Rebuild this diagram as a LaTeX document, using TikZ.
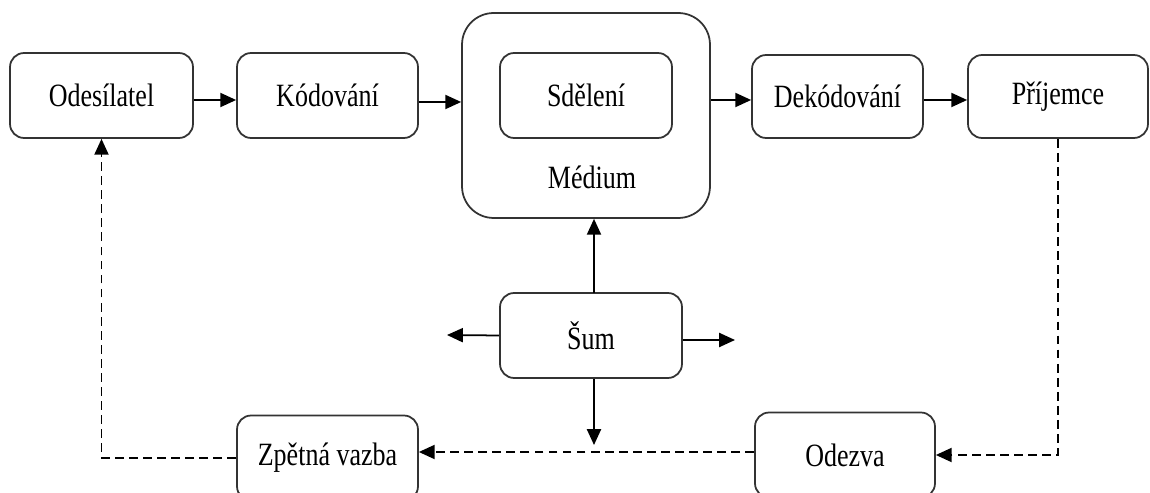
\documentclass[tikz,border=0pt]{standalone}
\usepackage{fontspec}
\setmainfont{Liberation Serif}[FakeStretch=0.8]
\usepackage{tikz}
\usetikzlibrary{positioning,arrows.meta}

\begin{document}
\begin{tikzpicture}[x=0.02cm, y=-0.02cm,
  every node/.style={font=\fontsize{18.5}{22}\selectfont},
  box/.style={draw=black!80, line width=1pt, rounded corners=8pt, fill=white,
    minimum width=3.62cm, minimum height=1.7cm, inner sep=2pt},
  flow/.style={line width=1pt, -{Triangle[length=9pt,width=8pt]}},
  fb/.style={flow, dashed, dash pattern=on 5pt off 3pt}]

  \useasboundingbox (0,0) rectangle (1150,493);

  % upper row
  \node[box, minimum width=3.66cm] (odesilatel) at (101.5,95.5) {Odesílatel};
  \node[box] (kodovani) at (327.5,95.5) {Kódování};
  \node[draw=black!80, line width=1pt, rounded corners=18pt,
    minimum width=4.96cm, minimum height=4.1cm] (medium) at (586,115.5) {};
  \node[box, minimum width=3.44cm] (sdeleni) at (586,95.5) {Sdělení};
  \node (mediumtxt) at (592,177) {Médium};
  \node[box, minimum width=3.42cm, minimum height=1.66cm] (dekodovani) at (837.5,96.5) {Dekódování};
  \node[box, minimum width=3.6cm, minimum height=1.66cm] (prijemce) at (1058,96.5) {Příjemce};

  % noise
  \node[box, minimum width=3.64cm] (sum) at (591,335.5) {Šum};
  \coordinate (sumtop) at (594,293);
  \coordinate (sumleft) at (447,335);
  \coordinate (sumright) at (735,340);
  \coordinate (sumdown) at (594,445);

  % lower row
  \node[box] (zpetna) at (327.5,458) {Zpětná vazba};
  \node[box, minimum width=3.6cm] (odezva) at (845,455) {Odezva};

  \draw[flow] (odesilatel.east |- 0,100) -- (kodovani.west |- 0,100);
  \draw[flow] (kodovani.east |- 0,102) -- (medium.west |- 0,102);
  \draw[flow] (medium.east |- 0,100) -- (dekodovani.west |- 0,100);
  \draw[flow] (dekodovani.east |- 0,100) -- (prijemce.west |- 0,100);

  \draw[flow] (sumtop) -- (sumtop |- medium.south);
  \draw[flow] (sum.west) -- (sumleft);
  \draw[flow] (sum.east |- sumright) -- (sumright);
  \draw[flow] (sumdown |- sum.south) -- (sumdown);

  \draw[fb] (prijemce.south) |- (odezva.east);
  \draw[fb] (odezva.west |- 0,452) -- (zpetna.east |- 0,452);
  \draw[fb] (zpetna.west) -| (odesilatel.south);

\end{tikzpicture}
\end{document}
